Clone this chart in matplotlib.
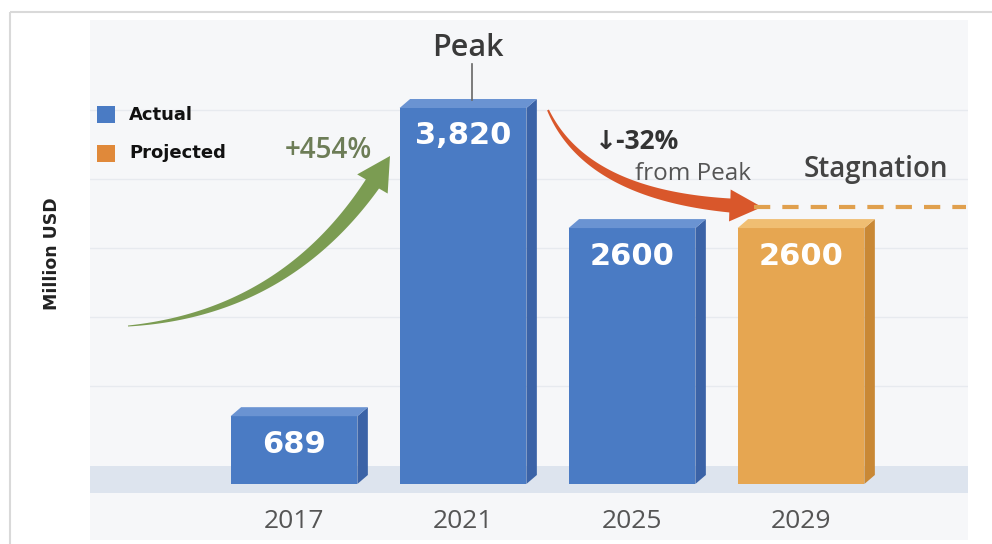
import numpy as np
import matplotlib.pyplot as plt
from matplotlib.patches import Polygon, Rectangle

# data
years = ["2017", "2021", "2025", "2029"]
values = [689, 3820, 2600, 2600]
value_labels = ["689", "3,820", "2600", "2600"]
kinds = ["Actual", "Actual", "Actual", "Projected"]
legend_items = ["Actual", "Projected"]

W, H = 992, 544
FLOOR = 484              # pixel row of the bar bases
PX = 376 / 3820          # pixels per million USD
BAR_W = 0.75
DX, DY = 0.062, 9 / PX   # 3d depth of the bars

faces = {
    "Actual": ("#4a7bc4", "#3b63a7", "#6a93d2"),
    "Projected": ("#e6a651", "#c98835", "#f0be72"),
}
legend_colors = {"Actual": "#4a7bc4", "Projected": "#e0893a"}


def to_px(v):
    return FLOOR - v * PX


def curved_arrow(axis, p0, p1, p2, w0, w1, head_w, head_l, color):
    t = np.linspace(0, 1, 300)[:, None]
    p0, p1, p2 = np.array(p0), np.array(p1), np.array(p2)
    pts = (1 - t) ** 2 * p0 + 2 * (1 - t) * t * p1 + t ** 2 * p2
    s = np.concatenate([[0], np.cumsum(np.hypot(*np.diff(pts, axis=0).T))])
    shaft = pts[s <= s[-1] - head_l]
    d = np.gradient(shaft, axis=0)
    d /= np.hypot(d[:, 0], d[:, 1])[:, None]
    n = np.column_stack([-d[:, 1], d[:, 0]])
    w = np.linspace(w0, w1, len(shaft))[:, None] / 2
    left, right = shaft + n * w, shaft - n * w
    base, tip = shaft[-1], pts[-1]
    u = (tip - base) / np.linalg.norm(tip - base)
    nv = np.array([-u[1], u[0]])
    head = [base + nv * head_w / 2, tip, base - nv * head_w / 2]
    poly = np.vstack([left, head, right[::-1]])
    axis.add_patch(Polygon(poly, closed=True, facecolor=color, lw=0))


fig = plt.figure(figsize=(W / 100, H / 100), dpi=100)
fig.patch.set_facecolor("white")

ax = fig.add_axes([90 / W, 4 / H, 878 / W, 520 / H])
ax.set_facecolor("#f6f7f9")
ax.set_xlim((90 - 294) / 169, (968 - 294) / 169)
ax.set_ylim(-(540 - FLOOR) / PX, (FLOOR - 20) / PX)
for sp in ax.spines.values():
    sp.set_visible(False)
ax.set_xticks([])
ax.set_yticks(np.arange(1000, 4500, 700))
ax.tick_params(axis="y", length=0, labelleft=False)
ax.grid(axis="y", color="#e7eaef", lw=1, zorder=0)
ax.axhspan(-9 / PX, 18 / PX, color="#dde4ee", lw=0, zorder=1)

for i, (v, kind) in enumerate(zip(values, kinds)):
    front, side, top = faces[kind]
    ax.bar(i, v, width=BAR_W, color=front, zorder=3)
    x0, x1 = i - BAR_W / 2, i + BAR_W / 2
    ax.add_patch(Polygon([(x1, 0), (x1 + DX, DY), (x1 + DX, v + DY), (x1, v)],
                         facecolor=side, lw=0, zorder=3))
    ax.add_patch(Polygon([(x0, v), (x0 + DX, v + DY), (x1 + DX, v + DY), (x1, v)],
                         facecolor=top, lw=0, zorder=3))
    ax.text(i, v - 28 / PX, value_labels[i], ha="center", va="center",
            color="white", fontsize=22, fontweight="bold", zorder=4)
    ax.text(i, -38 / PX, years[i], ha="center", va="center", color="#555555",
            fontsize=19, family="Open Sans")

# overlay in pixel coordinates for annotations
ov = fig.add_axes([0, 0, 1, 1], zorder=5)
ov.set_xlim(0, W)
ov.set_ylim(H, 0)
ov.axis("off")
ov.patch.set_alpha(0)

ov.add_patch(Rectangle((10, 12), 1000, 600, fill=False, ec="#d9d9d9", lw=1.5))

ov.text(52, 254, "Million USD", rotation=90, ha="center", va="center",
        fontsize=12.5, fontweight="bold", color="#222222")

for j, name in enumerate(legend_items):
    y = 106 + j * 39
    ov.add_patch(Rectangle((97, y), 18, 17, color=legend_colors[name], lw=0))
    ov.text(129, y + 8.5, name, ha="left", va="center", fontsize=13,
            fontweight="bold", color="#111111")

peak_px = to_px(values[1])
stag_px = to_px(values[3]) - 9 - 12

curved_arrow(ov, (128, 326), (300, 312), (390, 156), 1, 16, 36, 32, "#7b9c52")
curved_arrow(ov, (548, peak_px + 2), (590, stag_px - 4), (762, stag_px),
             2, 14, 32, 32, "#d9572b")

ov.text(468, 48, "Peak", ha="center", va="center", fontsize=22,
        color="#3a3a3a", family="Open Sans", fontweight="semibold")
ov.plot([472, 472], [64, peak_px - 8], color="#666666", lw=1.2)
ov.text(328, 150, "+454%", ha="center", va="center", fontsize=20,
        color="#6d7d57", family="Open Sans", fontweight="semibold")
ov.text(637, 141, "↓-32%", ha="center", va="center", fontsize=19,
        fontweight="bold", color="#333333", family=["Open Sans", "DejaVu Sans"])
ov.text(693, 174, "from Peak", ha="center", va="center", fontsize=17.5,
        color="#555555", family="Open Sans")
ov.text(876, stag_px - 38, "Stagnation", ha="center", va="center", fontsize=20,
        color="#444444", family="Open Sans", fontweight="semibold")
ov.plot([754, 966], [stag_px, stag_px], color="#e0a04e", lw=3,
        dashes=(3.9, 2.9))

fig.savefig("out.png", dpi=100)
